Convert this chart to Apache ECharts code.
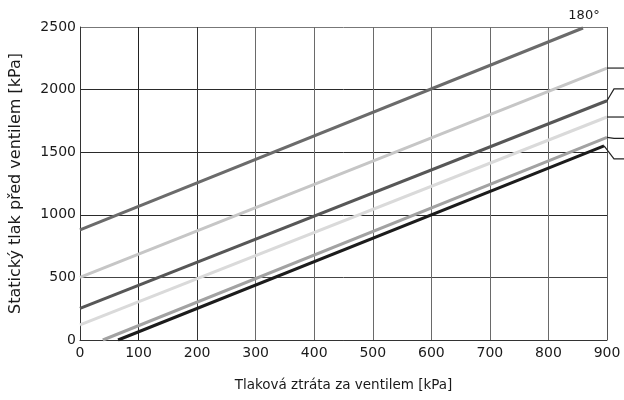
<!DOCTYPE html>
<html>
<head>
<meta charset="utf-8">
<script src="https://cdn.jsdelivr.net/npm/echarts@6/dist/echarts.min.js"></script>
<style>
  html, body { margin: 0; padding: 0; background: #fff; }
  #chart { width: 624px; height: 400px; }
</style>
</head>
<body>
<div id="chart"></div>
<script>
// Pressure loss behind the valve (x) vs. static pressure before the valve (y)
const xTicks = [0, 100, 200, 300, 400, 500, 600, 700, 800, 900];
const yTicks = [0, 500, 1000, 1500, 2000, 2500];

// Each characteristic is a straight line: [start x, start y] -> [end x, end y]
const lineStart = [[0, 880], [0, 500], [0, 253], [0, 120], [39, 0], [65, 0]];
const lineEnd   = [[859, 2492], [900, 2172], [900, 1911], [900, 1781], [900, 1619], [895, 1550]];
const lineColors = ['#6b6b6b', '#c6c6c6', '#575757', '#dadada', '#a2a2a2', '#1c1c1c'];

// Right-hand leader lines end at these static-pressure levels (none for the top line)
const leaderLevels = [null, 2172, 2005, 1781, 1610, 1446];
const topLabel = '180°';

const font = 'DejaVu Sans';
const chart = echarts.init(document.getElementById('chart'), null, { renderer: 'canvas' });

const series = lineStart.map((s, i) => ({
  type: 'line',
  data: [s, lineEnd[i]],
  symbol: 'none',
  silent: true,
  animation: false,
  lineStyle: { color: lineColors[i], width: 3, cap: 'butt' },
  z: 3
}));

chart.setOption({
  animation: false,
  grid: { left: 77, right: 17, top: 27, bottom: 60 },
  xAxis: {
    type: 'value',
    min: xTicks[0], max: xTicks[xTicks.length - 1], interval: 100,
    name: 'Tlaková ztráta za ventilem [kPa]',
    nameLocation: 'middle', nameGap: 38,
    nameTextStyle: { fontFamily: font, fontSize: 13.5, color: '#1a1a1a' },
    axisLine: { lineStyle: { color: '#333', width: 1 } },
    axisTick: { show: false },
    axisLabel: { fontFamily: font, fontSize: 14, color: '#1a1a1a', margin: 6 },
    splitLine: { show: true, lineStyle: { color: ['#333', '#222', '#333', '#6a6a6a', '#6a6a6a', '#6a6a6a', '#6a6a6a', '#6a6a6a', '#6a6a6a', '#555'], width: 1 } }
  },
  yAxis: {
    type: 'value',
    min: yTicks[0], max: yTicks[yTicks.length - 1], interval: 500,
    name: 'Statický tlak před ventilem [kPa]',
    nameLocation: 'middle', nameGap: 56,
    nameTextStyle: { fontFamily: font, fontSize: 16, color: '#1a1a1a' },
    axisLine: { show: true, lineStyle: { color: '#333', width: 1 } },
    axisTick: { show: false },
    axisLabel: { fontFamily: font, fontSize: 14, color: '#1a1a1a', margin: 4, formatter: v => String(v) },
    splitLine: { show: true, lineStyle: { color: ['#333', '#444', '#2a2a2a', '#2a2a2a', '#2a2a2a', '#777'], width: 1 } }
  },
  series: series
});

// Leader lines on the right edge and the label above the top line
const graphics = [];
lineEnd.forEach((e, i) => {
  const p = chart.convertToPixel({ gridIndex: 0 }, e);
  if (leaderLevels[i] !== null) {
    const ly = chart.convertToPixel({ gridIndex: 0 }, [900, leaderLevels[i]])[1];
    graphics.push({
      type: 'polyline',
      shape: { points: [[p[0], p[1]], [614, ly], [624, ly]] },
      style: { stroke: '#222', lineWidth: 1.2, fill: null },
      silent: true, z: 5
    });
  } else {
    graphics.push({
      type: 'text',
      x: p[0] + 1, y: p[1] - 12,
      style: { text: topLabel, fontFamily: font, fontSize: 13, fill: '#1a1a1a', align: 'center', verticalAlign: 'middle' },
      silent: true, z: 5
    });
  }
});
chart.setOption({ graphic: graphics });
</script>
</body>
</html>
